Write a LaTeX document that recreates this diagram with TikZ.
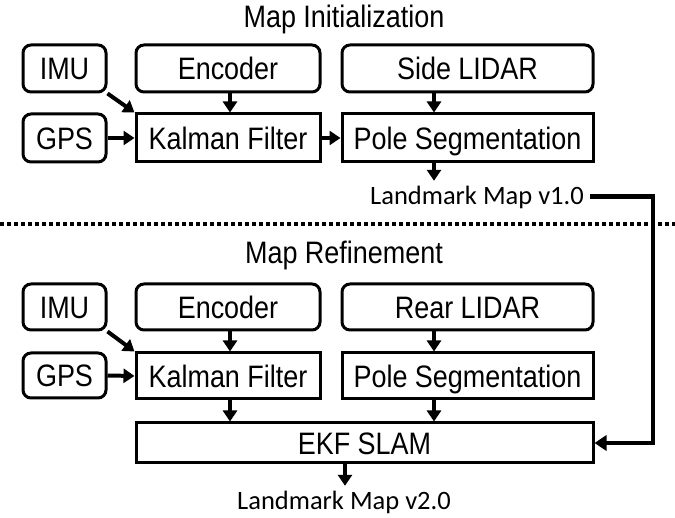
\documentclass[tikz,border=0pt]{standalone}
\usepackage{fontspec}
\setmainfont{Liberation Sans}
\newfontfamily\boxfont[FakeStretch=0.87]{Liberation Sans}
\newfontfamily\lmfont{Carlito}
\usetikzlibrary{arrows.meta}
\begin{document}
\begin{tikzpicture}[x=1pt,y=-1pt,
  rbox/.style={draw, line width=3pt, rounded corners=8pt, inner sep=0pt, fill=white,
    font=\boxfont\fontsize{31}{31}\selectfont, text height=22.2pt, text depth=0pt},
  sbox/.style={rbox, sharp corners},
  title/.style={anchor=base, inner sep=0pt, font=\boxfont\fontsize{31}{31}\selectfont},
  lmtext/.style={anchor=base, inner xsep=6pt, inner ysep=7pt, font=\lmfont\fontsize{26.5}{26.5}\selectfont, text height=17pt, text depth=0pt},
  arr/.style={line width=4pt, -{Triangle[width=14pt,length=11pt]}},
  conn/.style={line width=4.5pt, -{Triangle[width=15pt,length=12pt]}},
  dotline/.style={line width=4pt, dash pattern=on 4pt off 3pt}
]
\useasboundingbox[fill=white] (0,0) rectangle (675,518);

% column coordinates for vertical arrows
\coordinate (c2) at (230,0);
\coordinate (c3) at (434,0);
\coordinate (c4) at (345,0);
\coordinate (turn) at (653,0);

% ---------- Map Initialization ----------
\node[title] (t1) at (344,28) {Map Initialization};
\node[rbox, minimum width=83pt, minimum height=47pt] (imu1) at (64.5,68.5) {IMU};
\node[rbox, minimum width=184pt, minimum height=47pt] (enc1) at (228,68.5) {Encoder};
\node[rbox, minimum width=251pt, minimum height=47pt] (lid1) at (467.5,68.5) {Side LIDAR};
\node[rbox, minimum width=83pt, minimum height=48pt] (gps1) at (64.5,138) {GPS};
\node[sbox, minimum width=184pt, minimum height=48pt] (kf1) at (228,138) {Kalman Filter};
\node[sbox, minimum width=251pt, minimum height=48pt] (ps1) at (467.5,138) {Pole Segmentation};
\node[lmtext] (lm1) at (477,205) {Landmark Map v1.0};

\draw[arr] (imu1.south east) -- (kf1.north west);
\draw[arr] (gps1.east) -- (kf1.west);
\draw[arr] (enc1.south -| c2) -- (kf1.north -| c2);
\draw[arr] (kf1.east) -- (ps1.west);
\draw[arr] (lid1.south -| c3) -- (ps1.north -| c3);
\draw[arr] (ps1.south -| c3) -- (lm1.north -| c3);

% ---------- separator ----------
\coordinate (sepL) at (0,224);
\coordinate (sepR) at (675,224);
\draw[dotline] (sepL) -- (sepR);

% ---------- Map Refinement ----------
\node[title] (t2) at (344,264) {Map Refinement};
\node[rbox, minimum width=83pt, minimum height=46pt] (imu2) at (64.5,307) {IMU};
\node[rbox, minimum width=184pt, minimum height=46pt] (enc2) at (228,307) {Encoder};
\node[rbox, minimum width=251pt, minimum height=46pt] (lid2) at (467.5,307) {Rear LIDAR};
\node[rbox, minimum width=83pt, minimum height=45pt] (gps2) at (64.5,375.5) {GPS};
\node[sbox, minimum width=184pt, minimum height=46pt] (kf2) at (228,376) {Kalman Filter};
\node[sbox, minimum width=251pt, minimum height=46pt] (ps2) at (467.5,376) {Pole Segmentation};
\node[sbox, minimum width=457pt, minimum height=40pt] (ekf) at (364.5,443) {EKF SLAM};
\node[lmtext] (lm2) at (344,510) {Landmark Map v2.0};

\draw[arr] (imu2.south east) -- (kf2.north west);
\draw[arr] (gps2.east) -- (kf2.west);
\draw[arr] (enc2.south -| c2) -- (kf2.north -| c2);
\draw[arr] (lid2.south -| c3) -- (ps2.north -| c3);
\draw[arr] (kf2.south -| c2) -- (ekf.north -| c2);
\draw[arr] (ps2.south -| c3) -- (ekf.north -| c3);
\draw[arr] (ekf.south -| c4) -- (lm2.north -| c4);

% ---------- feedback connector ----------
\draw[conn] (lm1.east) -| (turn |- ekf.east) -- (ekf.east);
\end{tikzpicture}
\end{document}
